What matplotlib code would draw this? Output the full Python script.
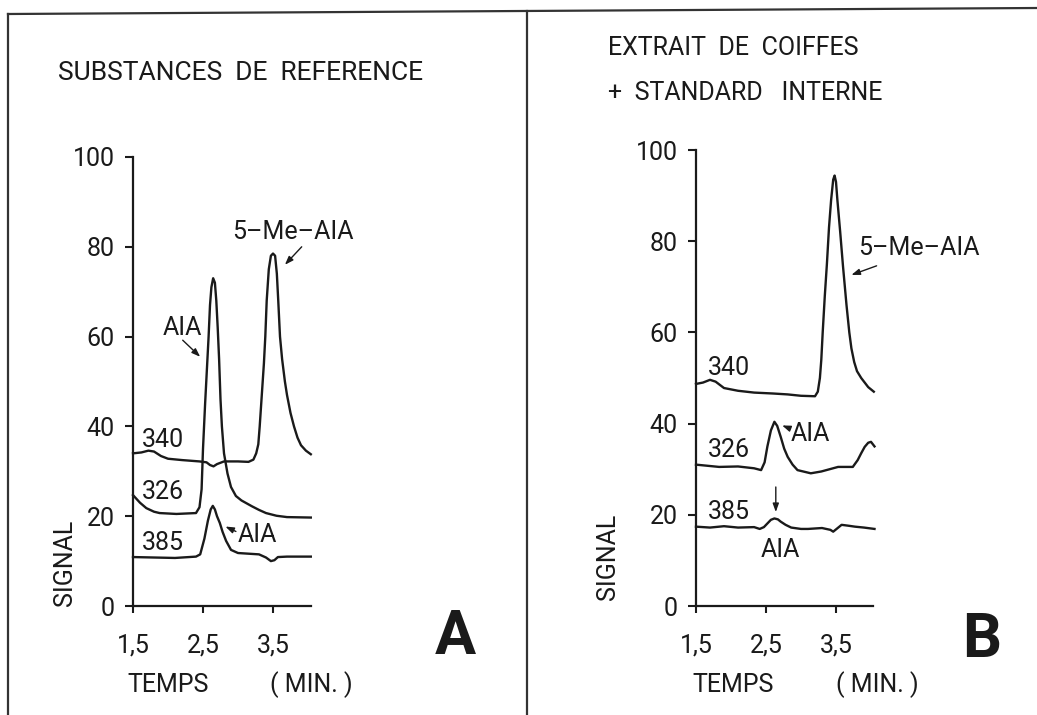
import matplotlib
matplotlib.use("Agg")
import matplotlib.pyplot as plt
from matplotlib.lines import Line2D

plt.rcParams['font.family'] = ['Roboto', 'DejaVu Sans']
plt.rcParams['font.weight'] = 'normal'

# ---------------- data ----------------
# Panel A : substances de reference
a340_x = [1.5, 1.62, 1.72, 1.8, 1.9, 2.0, 2.2, 2.45, 2.55, 2.6, 2.65, 2.7, 2.8, 3.0, 3.15, 3.22,
          3.26, 3.29, 3.31, 3.34, 3.37, 3.39, 3.41, 3.44, 3.47, 3.5, 3.53, 3.555, 3.575, 3.6, 3.63,
          3.67, 3.7, 3.75, 3.8, 3.85, 3.9, 3.97, 4.04]
a340_y = [34, 34.2, 34.6, 34.4, 33.4, 32.8, 32.5, 32.2, 32.0, 31.4, 31.1, 31.6, 32.2, 32.2, 32.1, 32.6,
          34, 36, 40, 47, 54, 60, 68, 75, 78, 78.5, 78, 74, 68, 60, 55,
          50, 47, 43, 40, 37.5, 35.8, 34.6, 33.8]

a326_x = [1.5, 1.6, 1.69, 1.8, 1.88, 2.12, 2.4, 2.45, 2.48, 2.5, 2.53, 2.56, 2.58, 2.6, 2.62, 2.645,
          2.67, 2.69, 2.71, 2.73, 2.75, 2.77, 2.8, 2.85, 2.9, 2.97, 3.05, 3.2, 3.3, 3.4, 3.55, 3.7, 4.04]
a326_y = [24.7, 23.0, 21.8, 21.0, 20.7, 20.5, 20.7, 22, 26, 35, 45, 54, 60, 67, 71, 73,
          72, 68, 62, 55, 46, 40, 34, 29.5, 26.5, 24.5, 23.5, 22.2, 21.4, 20.7, 20.1, 19.8, 19.7]

a385_x = [1.5, 1.8, 2.1, 2.4, 2.46, 2.52, 2.57, 2.61, 2.64, 2.67, 2.7, 2.74, 2.78, 2.83, 2.9, 3.0,
          3.3, 3.4, 3.47, 3.52, 3.57, 3.7, 4.04]
a385_y = [10.9, 10.8, 10.7, 11.0, 11.5, 15, 19, 21.5, 22.3, 21.5, 20, 18.5, 16.5, 14.5, 12.5, 11.8,
          11.5, 10.8, 10.0, 10.2, 10.9, 11.0, 11.0]

# Panel B : extrait de coiffes + standard interne
b340_x = [1.5, 1.6, 1.7, 1.78, 1.9, 2.1, 2.33, 2.6, 2.81, 3.0, 3.2, 3.24, 3.27, 3.29, 3.31, 3.34,
          3.37, 3.4, 3.43, 3.46, 3.48, 3.5, 3.52, 3.56, 3.6, 3.65, 3.69, 3.72, 3.76, 3.8, 3.86, 3.96, 4.04]
b340_y = [48.7, 49.0, 49.6, 49.2, 47.8, 47.2, 46.8, 46.6, 46.4, 46.1, 46.0, 47, 50, 54, 60, 68,
          75, 83, 89, 93.5, 94.4, 93, 89, 82, 74.5, 66, 60, 56.5, 53.5, 51.5, 50, 48, 47]

b326_x = [1.5, 1.83, 2.1, 2.33, 2.43, 2.48, 2.52, 2.57, 2.62, 2.66, 2.71, 2.76, 2.81, 2.88, 2.95,
          3.14, 3.29, 3.53, 3.74, 3.81, 3.86, 3.91, 3.96, 4.0, 4.05]
b326_y = [31.0, 30.5, 30.6, 30.2, 29.8, 31.5, 35, 38.5, 40.4, 39.5, 37.1, 34.5, 32.7, 31.0, 29.8,
          29.1, 29.5, 30.5, 30.5, 32, 33.5, 34.9, 35.8, 36, 35]

b385_x = [1.5, 1.7, 1.9, 2.1, 2.33, 2.41, 2.47, 2.52, 2.57, 2.62, 2.67, 2.71, 2.78, 2.86, 3.0, 3.1,
          3.3, 3.42, 3.46, 3.5, 3.58, 3.68, 3.77, 3.9, 4.05]
b385_y = [17.4, 17.2, 17.5, 17.2, 17.3, 16.9, 17.3, 18.1, 18.9, 19.2, 19.0, 18.5, 17.8, 17.2, 16.9, 16.9,
          17.1, 16.7, 16.3, 16.8, 17.8, 17.6, 17.4, 17.2, 16.9]

y_ticks = [0, 20, 40, 60, 80, 100]
x_ticks = [1.5, 2.5, 3.5]
x_tick_labels = ["1,5", "2,5", "3,5"]

W, H = 1037, 715
fig = plt.figure(figsize=(W / 100, H / 100), dpi=100)

FS = 18
LW = 1.7
INK = '#1a1a1a'


def make_axes(x0, x1, y_top, y_bot):
    ax = fig.add_axes([x0 / W, (H - y_bot) / H, (x1 - x0) / W, (y_bot - y_top) / H])
    ax.set_xlim(1.5, 1.5 + (x1 - x0) / 70.0)
    ax.set_ylim(0, 100)
    for s in ['top', 'right']:
        ax.spines[s].set_visible(False)
    for s in ['left', 'bottom']:
        ax.spines[s].set_linewidth(1.6)
        ax.spines[s].set_color(INK)
    ax.set_yticks(y_ticks)
    ax.set_yticklabels([str(v) for v in y_ticks])
    ax.set_xticks(x_ticks)
    ax.set_xticklabels(x_tick_labels)
    ax.tick_params(axis='y', direction='out', length=6, width=1.5, pad=7, labelsize=FS, colors=INK)
    ax.tick_params(axis='x', direction='out', length=5, width=1.5, pad=15, labelsize=FS, colors=INK)
    ax.patch.set_alpha(0)
    return ax


axA = make_axes(133, 311, 157, 606)
axB = make_axes(696, 873, 150, 606)

kw = dict(color=INK, lw=LW, solid_joinstyle='round', clip_on=False)
axA.plot(a340_x, a340_y, **kw)
axA.plot(a326_x, a326_y, **kw)
axA.plot(a385_x, a385_y, **kw)
axB.plot(b340_x, b340_y, **kw)
axB.plot(b326_x, b326_y, **kw)
axB.plot(b385_x, b385_y, **kw)

tk = dict(fontsize=FS, color=INK)
# trace labels A
axA.text(1.62, 37, "340", ha='left', va='center', **tk)
axA.text(1.62, 25.4, "326", ha='left', va='center', **tk)
axA.text(1.62, 14.0, "385", ha='left', va='center', **tk)
# trace labels B
axB.text(1.67, 52.2, "340", ha='left', va='center', **tk)
axB.text(1.67, 34.2, "326", ha='left', va='center', **tk)
axB.text(1.67, 20.6, "385", ha='left', va='center', **tk)

arr = dict(arrowstyle='-|>,head_length=0.5,head_width=0.18', color=INK, lw=1.0,
           shrinkA=0, shrinkB=0)
# annotations A
axA.text(3.79, 83.3, "5\u2013Me\u2013AIA", ha='center', va='center', **tk)
axA.annotate("", xy=(3.67, 76), xytext=(3.91, 80), arrowprops=arr, annotation_clip=False)
axA.text(2.2, 62, "AIA", ha='center', va='center', **tk)
axA.annotate("", xy=(2.46, 55.5), xytext=(2.21, 59.2), arrowprops=arr, annotation_clip=False)
axA.text(3.27, 15.8, "AIA", ha='center', va='center', **tk)
axA.annotate("", xy=(2.82, 17.7), xytext=(2.97, 16.6), arrowprops=arr, annotation_clip=False)
# annotations B
axB.text(4.68, 78.5, "5\u2013Me\u2013AIA", ha='center', va='center', **tk)
axB.annotate("", xy=(3.72, 72.6), xytext=(4.08, 74.6), arrowprops=arr, annotation_clip=False)
axB.text(3.14, 37.7, "AIA", ha='center', va='center', **tk)
axB.annotate("", xy=(2.73, 39.6), xytext=(2.83, 39.0), arrowprops=arr, annotation_clip=False)
axB.annotate("", xy=(2.64, 20.6), xytext=(2.64, 26.1), arrowprops=arr, annotation_clip=False)
axB.text(2.71, 12.3, "AIA", ha='center', va='center', **tk)


def ftext(px, py, s, **kwargs):
    fig.text(px / W, 1 - py / H, s, **kwargs)


ftext(58, 73, "SUBSTANCES  DE  REFERENCE", ha='left', va='center', fontsize=19, color=INK)
ftext(608, 48, "EXTRAIT  DE  COIFFES", ha='left', va='center', **tk)
ftext(608, 93, "+  STANDARD   INTERNE", ha='left', va='center', **tk)

ftext(65, 563, "SIGNAL", ha='center', va='center', rotation=90, **tk)
ftext(608, 557, "SIGNAL", ha='center', va='center', rotation=90, **tk)
ftext(168, 685, "TEMPS", ha='center', va='center', **tk)
ftext(311, 685, "( MIN. )", ha='center', va='center', **tk)
ftext(733, 685, "TEMPS", ha='center', va='center', **tk)
ftext(877, 685, "( MIN. )", ha='center', va='center', **tk)

ftext(455, 637, "A", ha='center', va='center', fontsize=44, fontweight='bold', color=INK)
ftext(982, 640, "B", ha='center', va='center', fontsize=44, fontweight='bold', color=INK)

# frame lines of the figure
ov = fig.add_axes([0, 0, 1, 1])
ov.set_xlim(0, W)
ov.set_ylim(H, 0)
ov.axis('off')
ov.patch.set_alpha(0)
ov.add_line(Line2D([8, 8], [14, H], color='#333333', lw=1.6))
ov.add_line(Line2D([8, W], [14, 8], color='#333333', lw=1.6))
ov.add_line(Line2D([527, 527], [11, H], color='#333333', lw=1.6))

fig.savefig("out.png", dpi=100)
